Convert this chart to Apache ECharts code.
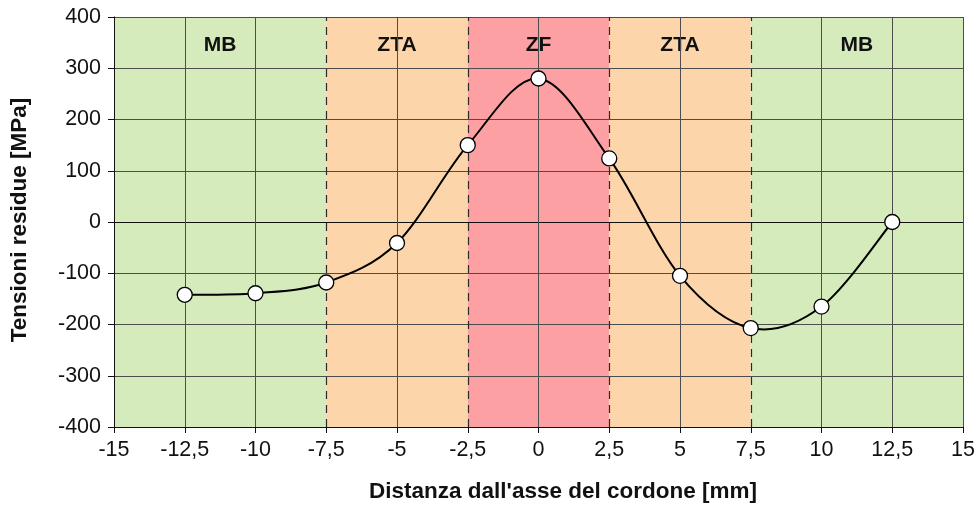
<!DOCTYPE html>
<html>
<head>
<meta charset="utf-8">
<script src="https://cdn.jsdelivr.net/npm/echarts@6/dist/echarts.min.js"></script>
<style>html,body{margin:0;padding:0;background:#fff;}#c{width:979px;height:505px;}</style>
</head>
<body>
<div id="c"></div>
<script>
// Data
var xValues = [-12.5, -10, -7.5, -5, -2.5, 0, 2.5, 5, 7.5, 10, 12.5];
var stressValues = [-142, -139, -118, -41, 150, 280, 124, -105, -207, -165, 0];
var zoneStarts = [-15, -7.5, -2.5, 2.5, 7.5];
var zoneEnds = [-7.5, -2.5, 2.5, 7.5, 15];
var zoneLabels = ['MB', 'ZTA', 'ZF', 'ZTA', 'MB'];
var boundaries = [-7.5, -2.5, 2.5, 7.5];
var xTitle = "Distanza dall'asse del cordone [mm]";
var yTitle = 'Tensioni residue [MPa]';

var zoneColors = {MB: '#d5ebbb', ZTA: '#fdd5aa', ZF: '#fca0a3'};
var FONT = '"Liberation Sans", Arial, sans-serif';

var chart = echarts.init(document.getElementById('c'), null, {renderer: 'canvas'});

var pts = xValues.map(function (x, i) { return [x, stressValues[i]]; });
var areas = zoneStarts.map(function (s, i) {
  return [{xAxis: s, itemStyle: {color: zoneColors[zoneLabels[i]]}, name: zoneLabels[i]}, {xAxis: zoneEnds[i]}];
});
var vLines = boundaries.map(function (b) { return {xAxis: b}; });

var xTicks = [];
for (var t = -15; t <= 15.001; t += 2.5) xTicks.push(t);
var xSplitColors = xTicks.map(function (t) {
  return boundaries.some(function (b) { return Math.abs(b - t) < 1e-6; }) ? 'rgba(0,0,0,0)' : '#4d4d4d';
});
var ySplitColors = [];
for (var v = -400; v <= 400; v += 100) ySplitColors.push(v === 0 ? '#111' : '#4d4d4d');

// Smooth curve (Catmull-Rom style bezier) drawn through the library's coordinate system
function renderCurve(params, api) {
  var i = params.dataIndex, n = pts.length;
  if (i >= n - 1) return null;
  var p0 = api.coord(pts[Math.max(i - 1, 0)]);
  var p1 = api.coord(pts[i]);
  var p2 = api.coord(pts[i + 1]);
  var p3 = api.coord(pts[Math.min(i + 2, n - 1)]);
  var k = 1 / 6;
  return {
    type: 'bezierCurve',
    shape: {
      x1: p1[0], y1: p1[1], x2: p2[0], y2: p2[1],
      cpx1: p1[0] + (p2[0] - p0[0]) * k, cpy1: p1[1] + (p2[1] - p0[1]) * k,
      cpx2: p2[0] - (p3[0] - p1[0]) * k, cpy2: p2[1] - (p3[1] - p1[1]) * k
    },
    style: {stroke: '#000', lineWidth: 2, fill: null}
  };
}

chart.setOption({
  animation: false,
  grid: {left: 114, right: 16, top: 17, bottom: 78, containLabel: false},
  xAxis: {
    type: 'value', min: -15, max: 15, interval: 2.5, z: 3,
    axisLine: {show: true, onZero: false, lineStyle: {color: '#111', width: 1}},
    axisTick: {show: true, length: 6, lineStyle: {color: '#111'}},
    axisLabel: {color: '#111', fontFamily: FONT, fontSize: 21.5, margin: 12,
      formatter: function (v) { return String(v).replace('.', ','); }},
    splitLine: {show: true, lineStyle: {color: xSplitColors, width: 1}}
  },
  yAxis: {
    type: 'value', min: -400, max: 400, interval: 100, z: 3,
    axisLine: {show: true, onZero: false, lineStyle: {color: '#111', width: 1}},
    axisTick: {show: true, length: 6, lineStyle: {color: '#111'}},
    axisLabel: {color: '#111', fontFamily: FONT, fontSize: 21.5, margin: 13},
    splitLine: {show: true, lineStyle: {color: ySplitColors, width: 1}}
  },
  graphic: [
    {type: 'text', style: {text: xTitle, font: 'bold 22.5px ' + FONT, fill: '#111', textAlign: 'center', textVerticalAlign: 'middle'}, x: 563, y: 492, z: 10},
    {type: 'text', style: {text: yTitle, font: 'bold 22.5px ' + FONT, fill: '#111', textAlign: 'center', textVerticalAlign: 'middle'}, x: 20, y: 220, rotation: Math.PI / 2, z: 10}
  ],
  series: [
    {
      type: 'line', data: [], z: 1, silent: true,
      markArea: {
        silent: true,
        label: {show: true, position: 'insideTop', distance: 18, fontFamily: FONT, fontSize: 21, fontWeight: 'bold', color: '#111'},
        data: areas
      },
      markLine: {
        silent: true, symbol: 'none',
        label: {show: false},
        lineStyle: {color: '#2a2a2a', type: [8, 6], width: 1.2},
        data: vLines
      }
    },
    {
      type: 'custom', data: pts, z: 5, silent: true, clip: false,
      encode: {x: 0, y: 1},
      renderItem: renderCurve
    },
    {
      type: 'scatter', data: pts, z: 6,
      symbol: 'circle', symbolSize: 15,
      itemStyle: {color: '#fff', borderColor: '#000', borderWidth: 1.3, opacity: 1}
    }
  ]
});
</script>
</body>
</html>
